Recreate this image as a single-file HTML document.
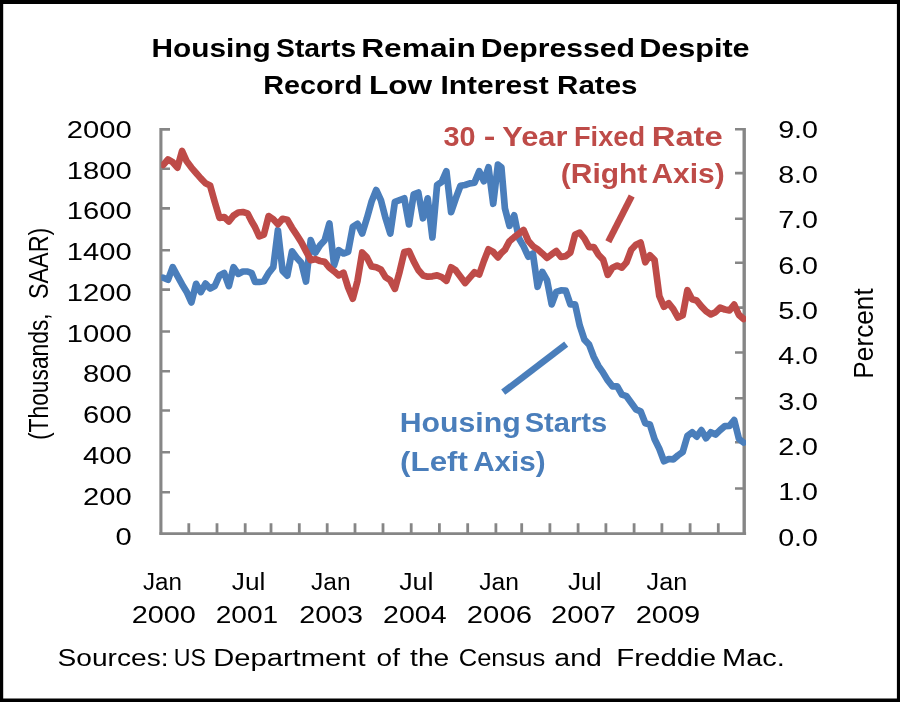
<!DOCTYPE html>
<html lang="en"><head><meta charset="utf-8"><title>Housing Starts Remain Depressed Despite Record Low Interest Rates</title>
<style>
html,body{margin:0;padding:0;background:#fff}
body{width:900px;height:702px;overflow:hidden}
svg{position:absolute;left:0;top:0;display:block}
text{font-family:"Liberation Sans",sans-serif}
</style></head><body>
<svg width="900" height="702" viewBox="0 0 900 702">
<path fill="#000" fill-rule="evenodd" d="M0 0H900V702H0ZM3.2 3.9V698.5H896.9V3.9Z"/>
<g fill="none" stroke="#868686">
<path d="M160.9 128.1V534.8" stroke-width="3.1"/>
<path d="M744.2 127.9V534.8" stroke-width="3.4"/>
<path d="M159.5 533.6H746.1" stroke-width="2.6"/>
<path d="M161 129.40H170M161 168.70H170M161 208.40H170M161 250.30H170M161 289.60H170M161 331.50H170M161 371.20H170M161 410.50H170M161 452.30H170M161 492.30H170" stroke-width="2.6"/>
<path d="M735 129.20H744M735 173.10H744M735 218.80H744M735 262.70H744M735 307.60H744M735 352.50H744M735 398.20H744M735 442.30H744M735 488.50H744" stroke-width="2.6"/>
<path d="M188.80 523.3V533.6M217.00 523.3V533.6M245.20 523.3V533.6M271.00 523.3V533.6M299.30 523.3V533.6M327.20 523.3V533.6M355.00 523.3V533.6M383.00 523.3V533.6M411.20 523.3V533.6M439.40 523.3V533.6M467.70 523.3V533.6M495.90 523.3V533.6M521.70 523.3V533.6M549.90 523.3V533.6M578.10 523.3V533.6M605.90 523.3V533.6M634.10 523.3V533.6M661.90 523.3V533.6M690.10 523.3V533.6M718.30 523.3V533.6" stroke-width="2.8"/>
</g>
<defs><clipPath id="pc"><rect x="161.2" y="100" width="584.8" height="440"/></clipPath></defs>
<g fill="none" stroke-linejoin="round" stroke-linecap="round" stroke-width="6.7" clip-path="url(#pc)">
<polyline stroke="#4A7EBB" points="163.3,277.7 168.0,279.8 172.7,267.2 177.4,275.9 182.1,284.4 186.7,291.9 191.4,302.4 196.1,283.8 200.8,292.1 205.5,283.6 210.1,288.5 214.8,286.0 219.5,275.5 224.2,273.1 228.9,286.0 233.5,267.2 238.2,273.9 242.9,271.5 247.6,271.5 251.7,273.1 255.1,282.0 259.2,282.0 263.9,281.2 268.6,273.1 273.3,267.2 277.9,230.2 282.6,270.9 287.3,275.7 292.0,251.3 296.7,257.7 301.3,262.8 306.0,281.6 310.7,240.2 315.4,252.7 320.1,245.2 324.7,240.2 329.4,223.4 334.1,265.2 338.8,250.1 343.5,253.5 348.1,251.9 352.8,226.8 357.5,223.8 362.2,233.5 366.9,218.3 371.5,201.8 376.2,190.0 380.9,200.1 385.6,218.3 390.3,233.5 394.9,201.8 399.6,200.1 404.3,198.3 409.0,224.4 413.7,194.3 418.3,192.5 423.0,218.3 427.7,198.3 432.4,237.5 437.1,185.0 441.7,181.9 446.4,171.2 451.1,212.1 455.8,198.3 460.5,185.8 465.1,185.0 469.8,183.4 474.5,182.6 479.2,171.2 483.9,181.3 488.5,167.2 493.2,203.8 497.9,164.6 501.4,167.4 504.9,208.4 509.5,225.8 514.2,215.3 518.9,238.3 523.6,246.4 528.3,256.7 532.9,253.5 537.6,286.8 542.3,271.9 547.0,280.2 551.7,304.4 556.3,291.9 561.0,290.3 565.7,290.5 570.4,304.4 575.1,304.4 579.7,325.4 584.4,339.6 589.1,344.6 593.8,357.0 598.5,366.1 603.1,372.7 607.8,380.4 612.5,386.3 617.2,386.3 621.9,394.6 626.5,396.2 631.2,402.8 635.9,409.3 640.6,411.3 645.3,423.3 649.9,424.5 654.6,439.2 659.3,448.7 664.0,461.2 668.7,459.0 673.3,459.4 678.0,455.4 682.7,452.0 687.4,436.0 692.1,432.3 696.7,436.6 701.4,430.1 706.1,438.2 710.8,432.3 715.5,434.6 720.1,430.1 724.8,426.1 729.5,425.9 734.2,420.0 738.9,438.8 743.5,442.5"/>
<polyline stroke="#BE4B48" points="163.3,164.9 168.0,159.5 172.7,162.2 177.4,167.6 182.1,151.0 186.7,161.3 191.4,167.6 196.1,173.0 200.8,178.4 205.5,183.3 210.1,185.5 214.8,202.2 219.5,217.9 224.2,217.0 228.9,221.5 233.5,215.6 238.2,212.5 242.9,212.0 247.6,213.4 251.7,221.5 255.1,227.3 259.2,236.3 263.9,234.5 268.6,216.1 273.3,219.2 277.9,224.2 282.6,218.8 287.3,219.7 292.0,227.8 296.7,234.9 301.3,242.1 306.0,251.1 310.7,260.1 315.4,259.2 320.1,261.0 324.7,261.9 329.4,267.7 334.1,271.3 338.8,275.4 343.5,272.7 348.1,287.5 352.8,298.7 357.5,280.8 362.2,252.5 366.9,257.4 371.5,266.4 376.2,267.3 380.9,269.5 385.6,277.2 390.3,280.3 394.9,288.8 399.6,271.8 404.3,252.0 409.0,251.1 413.7,261.4 418.3,270.0 423.0,275.4 427.7,276.7 432.4,276.3 437.1,275.4 441.7,277.2 446.4,280.8 451.1,267.3 455.8,270.4 460.5,276.7 465.1,283.0 469.8,277.6 474.5,272.2 479.2,274.5 483.9,261.0 488.5,249.3 493.2,252.0 497.9,257.4 501.4,252.9 504.9,249.8 509.5,241.2 514.2,237.2 518.9,233.6 523.6,230.0 528.3,240.8 532.9,246.2 537.6,249.3 542.3,253.4 547.0,257.9 551.7,254.3 556.3,251.1 561.0,257.0 565.7,256.1 570.4,252.5 575.1,234.5 579.7,232.7 584.4,238.5 589.1,247.1 593.8,247.1 598.5,254.7 603.1,259.6 607.8,274.9 612.5,267.7 617.2,265.5 621.9,267.7 626.5,262.3 631.2,249.8 635.9,244.8 640.6,242.6 645.3,262.3 649.9,255.2 654.6,260.1 659.3,296.0 664.0,306.8 668.7,303.2 673.3,309.1 678.0,317.6 682.7,315.3 687.4,290.2 692.1,299.2 696.7,300.5 701.4,306.4 706.1,311.3 710.8,314.4 715.5,312.2 720.1,307.7 724.8,309.5 729.5,310.4 734.2,304.6 738.9,314.9 743.5,318.9"/>
</g>
<g fill="none" stroke-width="6.6">
<path stroke="#BE4B48" d="M631.7 196.1L608.3 241.8"/>
<path stroke="#4A7EBB" d="M566.2 344.2L503.2 392.2"/>
</g>
<g>
<text x="151.51" y="57.00" font-size="26.70" font-weight="bold" textLength="119.19" lengthAdjust="spacingAndGlyphs">Housing</text>
<text x="276.09" y="57.00" font-size="26.70" font-weight="bold" textLength="80.18" lengthAdjust="spacingAndGlyphs">Starts</text>
<text x="361.18" y="57.00" font-size="26.70" font-weight="bold" textLength="114.59" lengthAdjust="spacingAndGlyphs">Remain</text>
<text x="480.68" y="57.00" font-size="26.70" font-weight="bold" textLength="154.31" lengthAdjust="spacingAndGlyphs">Depressed</text>
<text x="639.15" y="57.00" font-size="26.70" font-weight="bold" textLength="110.49" lengthAdjust="spacingAndGlyphs">Despite</text>
<text x="263.28" y="93.60" font-size="26.70" font-weight="bold" textLength="99.02" lengthAdjust="spacingAndGlyphs">Record</text>
<text x="368.98" y="93.60" font-size="26.70" font-weight="bold" textLength="63.25" lengthAdjust="spacingAndGlyphs">Low</text>
<text x="440.49" y="93.60" font-size="26.70" font-weight="bold" textLength="108.27" lengthAdjust="spacingAndGlyphs">Interest</text>
<text x="557.13" y="93.60" font-size="26.70" font-weight="bold" textLength="80.38" lengthAdjust="spacingAndGlyphs">Rates</text>
<text x="66.73" y="137.85" font-size="24.50" textLength="64.91" lengthAdjust="spacingAndGlyphs">2000</text>
<text x="66.73" y="178.61" font-size="24.50" textLength="64.91" lengthAdjust="spacingAndGlyphs">1800</text>
<text x="66.73" y="219.37" font-size="24.50" textLength="64.91" lengthAdjust="spacingAndGlyphs">1600</text>
<text x="66.73" y="260.13" font-size="24.50" textLength="64.91" lengthAdjust="spacingAndGlyphs">1400</text>
<text x="66.73" y="300.89" font-size="24.50" textLength="64.91" lengthAdjust="spacingAndGlyphs">1200</text>
<text x="66.73" y="341.65" font-size="24.50" textLength="64.91" lengthAdjust="spacingAndGlyphs">1000</text>
<text x="82.96" y="382.41" font-size="24.50" textLength="48.68" lengthAdjust="spacingAndGlyphs">800</text>
<text x="82.96" y="423.17" font-size="24.50" textLength="48.68" lengthAdjust="spacingAndGlyphs">600</text>
<text x="82.96" y="463.93" font-size="24.50" textLength="48.68" lengthAdjust="spacingAndGlyphs">400</text>
<text x="82.96" y="504.69" font-size="24.50" textLength="48.68" lengthAdjust="spacingAndGlyphs">200</text>
<text x="115.41" y="545.45" font-size="24.50" textLength="16.23" lengthAdjust="spacingAndGlyphs">0</text>
<text x="778.16" y="137.85" font-size="24.50" textLength="39.86" lengthAdjust="spacingAndGlyphs">9.0</text>
<text x="778.16" y="183.15" font-size="24.50" textLength="39.86" lengthAdjust="spacingAndGlyphs">8.0</text>
<text x="778.16" y="228.45" font-size="24.50" textLength="39.86" lengthAdjust="spacingAndGlyphs">7.0</text>
<text x="778.16" y="273.75" font-size="24.50" textLength="39.86" lengthAdjust="spacingAndGlyphs">6.0</text>
<text x="778.16" y="319.05" font-size="24.50" textLength="39.86" lengthAdjust="spacingAndGlyphs">5.0</text>
<text x="778.16" y="364.35" font-size="24.50" textLength="39.86" lengthAdjust="spacingAndGlyphs">4.0</text>
<text x="778.16" y="409.65" font-size="24.50" textLength="39.86" lengthAdjust="spacingAndGlyphs">3.0</text>
<text x="778.16" y="454.95" font-size="24.50" textLength="39.86" lengthAdjust="spacingAndGlyphs">2.0</text>
<text x="778.16" y="500.25" font-size="24.50" textLength="39.86" lengthAdjust="spacingAndGlyphs">1.0</text>
<text x="778.16" y="545.55" font-size="24.50" textLength="39.86" lengthAdjust="spacingAndGlyphs">0.0</text>
<text x="143.02" y="589.50" font-size="23.50" textLength="38.95" lengthAdjust="spacingAndGlyphs">Jan</text>
<text x="131.75" y="623.00" font-size="24.50" textLength="64.18" lengthAdjust="spacingAndGlyphs">2000</text>
<text x="231.79" y="589.50" font-size="23.50" textLength="33.57" lengthAdjust="spacingAndGlyphs">Jul</text>
<text x="215.69" y="623.00" font-size="24.50" textLength="62.48" lengthAdjust="spacingAndGlyphs">2001</text>
<text x="311.12" y="589.50" font-size="23.50" textLength="39.47" lengthAdjust="spacingAndGlyphs">Jan</text>
<text x="299.16" y="623.00" font-size="24.50" textLength="63.91" lengthAdjust="spacingAndGlyphs">2003</text>
<text x="399.18" y="589.50" font-size="23.50" textLength="34.32" lengthAdjust="spacingAndGlyphs">Jul</text>
<text x="383.07" y="623.00" font-size="24.50" textLength="63.47" lengthAdjust="spacingAndGlyphs">2004</text>
<text x="479.32" y="589.50" font-size="23.50" textLength="39.68" lengthAdjust="spacingAndGlyphs">Jan</text>
<text x="466.83" y="623.00" font-size="24.50" textLength="65.16" lengthAdjust="spacingAndGlyphs">2006</text>
<text x="567.99" y="589.50" font-size="23.50" textLength="33.57" lengthAdjust="spacingAndGlyphs">Jul</text>
<text x="551.13" y="623.00" font-size="24.50" textLength="64.83" lengthAdjust="spacingAndGlyphs">2007</text>
<text x="646.61" y="589.50" font-size="23.50" textLength="40.63" lengthAdjust="spacingAndGlyphs">Jan</text>
<text x="635.74" y="623.00" font-size="24.50" textLength="64.43" lengthAdjust="spacingAndGlyphs">2009</text>
<text x="57.62" y="665.80" font-size="23.50" textLength="110.94" lengthAdjust="spacingAndGlyphs">Sources:</text>
<text x="173.81" y="665.80" font-size="23.50" textLength="32.15" lengthAdjust="spacingAndGlyphs">US</text>
<text x="213.21" y="665.80" font-size="23.50" textLength="152.30" lengthAdjust="spacingAndGlyphs">Department</text>
<text x="376.63" y="665.80" font-size="23.50" textLength="23.33" lengthAdjust="spacingAndGlyphs">of</text>
<text x="410.07" y="665.80" font-size="23.50" textLength="39.18" lengthAdjust="spacingAndGlyphs">the</text>
<text x="458.70" y="665.80" font-size="23.50" textLength="86.62" lengthAdjust="spacingAndGlyphs">Census</text>
<text x="554.39" y="665.80" font-size="23.50" textLength="47.44" lengthAdjust="spacingAndGlyphs">and</text>
<text x="616.29" y="665.80" font-size="23.50" textLength="99.72" lengthAdjust="spacingAndGlyphs">Freddie</text>
<text x="722.02" y="665.80" font-size="23.50" textLength="62.83" lengthAdjust="spacingAndGlyphs">Mac.</text>
<text x="443.54" y="145.60" font-size="26.90" font-weight="bold" fill="#BE4B48" textLength="32.04" lengthAdjust="spacingAndGlyphs">30</text>
<text x="483.73" y="145.60" font-size="26.90" font-weight="bold" fill="#BE4B48" textLength="11.67" lengthAdjust="spacingAndGlyphs">-</text>
<text x="502.39" y="145.60" font-size="26.90" font-weight="bold" fill="#BE4B48" textLength="64.97" lengthAdjust="spacingAndGlyphs">Year</text>
<text x="573.98" y="145.60" font-size="26.90" font-weight="bold" fill="#BE4B48" textLength="71.12" lengthAdjust="spacingAndGlyphs">Fixed</text>
<text x="651.81" y="145.60" font-size="26.90" font-weight="bold" fill="#BE4B48" textLength="70.91" lengthAdjust="spacingAndGlyphs">Rate</text>
<text x="560.81" y="182.90" font-size="26.90" font-weight="bold" fill="#BE4B48" textLength="86.46" lengthAdjust="spacingAndGlyphs">(Right</text>
<text x="651.45" y="182.90" font-size="26.90" font-weight="bold" fill="#BE4B48" textLength="73.34" lengthAdjust="spacingAndGlyphs">Axis)</text>
<text x="399.78" y="432.00" font-size="26.90" font-weight="bold" fill="#4A7EBB" textLength="120.95" lengthAdjust="spacingAndGlyphs">Housing</text>
<text x="524.66" y="432.00" font-size="26.90" font-weight="bold" fill="#4A7EBB" textLength="82.43" lengthAdjust="spacingAndGlyphs">Starts</text>
<text x="400.14" y="470.80" font-size="26.90" font-weight="bold" fill="#4A7EBB" textLength="67.74" lengthAdjust="spacingAndGlyphs">(Left</text>
<text x="473.16" y="470.80" font-size="26.90" font-weight="bold" fill="#4A7EBB" textLength="72.41" lengthAdjust="spacingAndGlyphs">Axis)</text>
<text transform="translate(47.50 438.60) rotate(-90)" x="-1.41" y="0" font-size="28.10" textLength="126.66" lengthAdjust="spacingAndGlyphs">(Thousands,</text>
<text transform="translate(47.50 298.00) rotate(-90)" x="-1.06" y="0" font-size="28.10" textLength="71.41" lengthAdjust="spacingAndGlyphs">SAAR)</text>
<text transform="translate(873.10 376.50) rotate(-90)" x="-2.15" y="0" font-size="28.10" textLength="90.34" lengthAdjust="spacingAndGlyphs">Percent</text>
</g>
</svg>
</body></html>
